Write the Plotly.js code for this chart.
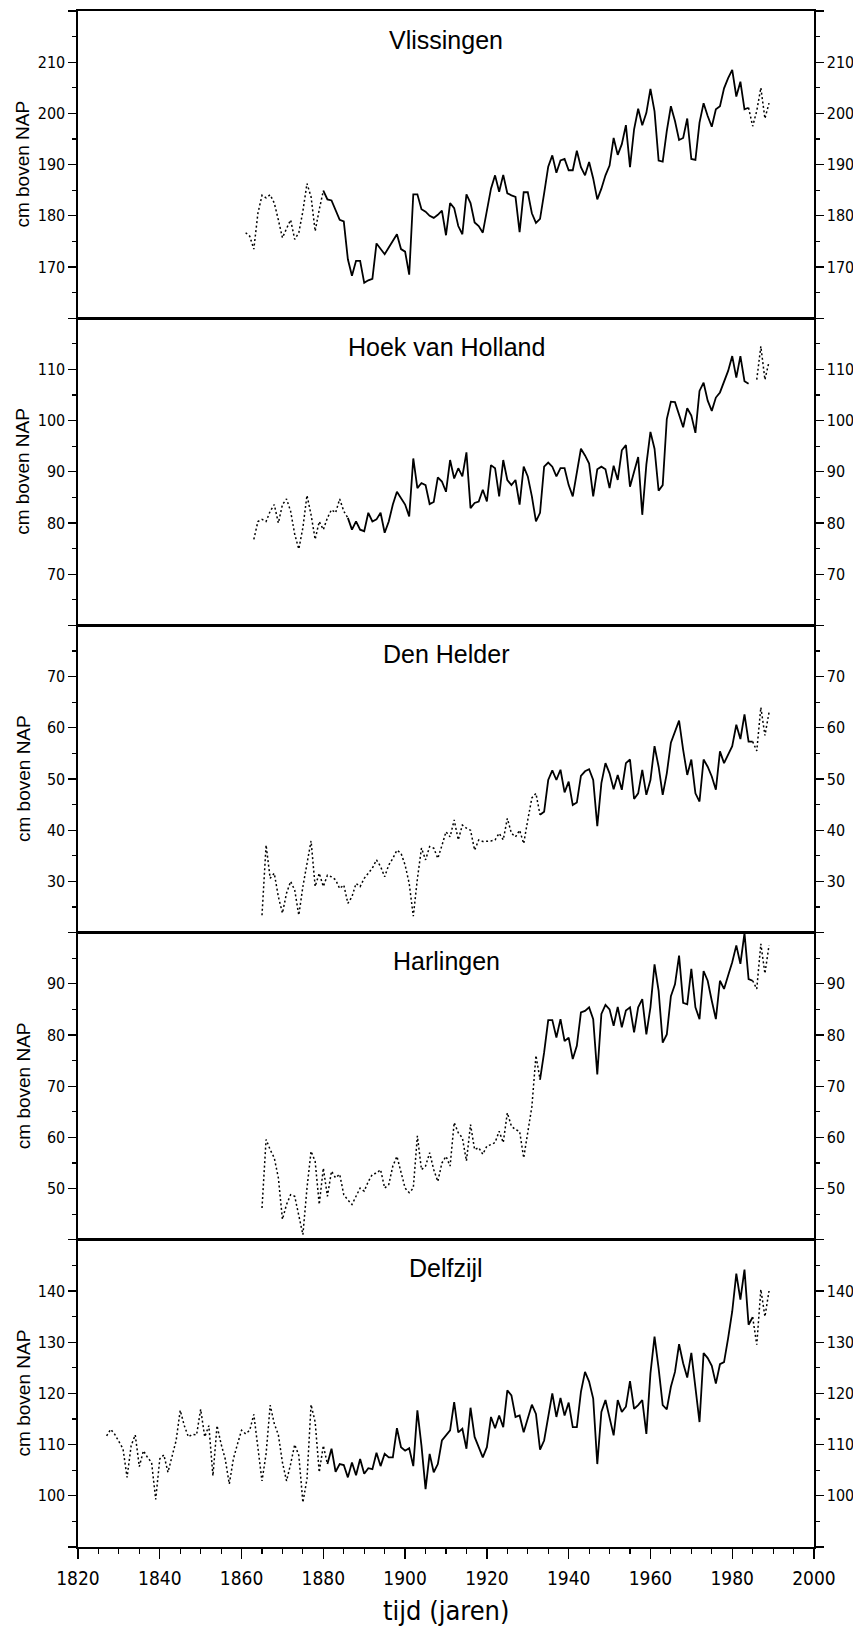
<!DOCTYPE html>
<html>
<head>
<meta charset="utf-8">
<script src="https://cdn.plot.ly/plotly-3.0.1.min.js"></script>
<style>
  html, body { margin: 0; padding: 0; background: #fff; }
  #chart { width: 853px; height: 1627px; }
</style>
</head>
<body>
<div id="chart"></div>
<script>
// ---------------- DATA (cm boven NAP, jaargemiddelden) ----------------
const stationNames = ['Vlissingen', 'Hoek van Holland', 'Den Helder', 'Harlingen', 'Delfzijl'];
const yRanges = [[160, 220], [60, 120], [20, 80], [40, 100], [90, 150]];
const xTickYears = [1820, 1840, 1860, 1880, 1900, 1920, 1940, 1960, 1980, 2000];

// Vlissingen
const vlisDotAStart = 1861;
const vlisDotA = [176.7, 176.0, 173.5, 180.5, 184.0, 183.5, 184.1, 182.5, 179.2, 175.7,
                  177.5, 179.2, 175.4, 176.7, 180.9, 186.3, 183.7, 177.0, 181.2, 184.9];
const vlisSolidStart = 1880;
const vlisSolid = [184.9, 183.2, 183.0, 181.2, 179.2, 178.9, 171.5, 168.3, 171.2, 171.2,
                   166.9, 167.4, 167.7, 174.6, 173.6, 172.5, 173.8, 175.2, 176.4, 173.5,
                   173.0, 168.5, 184.2, 184.2, 181.3, 180.8, 180.0, 179.6, 180.2, 181.0,
                   176.2, 182.5, 181.5, 178.0, 176.4, 184.2, 182.5, 178.7, 178.0, 176.7,
                   181.3, 185.3, 187.9, 184.7, 188.0, 184.4, 184.0, 183.7, 176.8, 184.6,
                   184.6, 180.5, 178.6, 179.4, 184.4, 189.6, 191.8, 188.4, 190.8, 191.1,
                   188.9, 188.9, 192.7, 189.5, 187.9, 190.5, 187.3, 183.2, 185.3, 187.9,
                   189.8, 195.2, 191.9, 194.0, 197.7, 189.5, 196.9, 200.9, 197.7, 200.1,
                   204.8, 200.4, 190.8, 190.6, 196.6, 201.4, 198.5, 194.8, 195.2, 199.0,
                   191.1, 190.9, 198.2, 202.0, 199.5, 197.4, 200.8, 201.4, 204.9, 206.9,
                   208.5, 203.3, 206.2, 200.8, 201.1];
const vlisDotBStart = 1984;
const vlisDotB = [201.1, 197.5, 200.5, 205.0, 199.0, 202.0];

// Hoek van Holland
const hoekDotAStart = 1863;
const hoekDotA = [76.8, 80.3, 80.7, 80.3, 82.3, 83.6, 80.0, 83.6, 84.7, 82.3,
                  77.8, 74.9, 79.1, 85.4, 81.6, 76.8, 80.3, 78.7, 81.0, 82.6,
                  82.0, 84.7, 82.3, 81.0];
const hoekSolidStart = 1886;
const hoekSolid = [81.0, 78.7, 80.3, 78.7,
                   78.4, 82.0, 80.3, 80.7, 82.0, 78.1, 80.3, 83.6, 86.1, 84.9,
                   83.6, 81.3, 92.6, 86.8, 87.8, 87.4, 83.7, 84.1, 88.9, 88.1,
                   86.1, 92.3, 88.7, 90.7, 89.1, 93.8, 82.9, 83.9, 84.2, 86.5,
                   84.2, 91.3, 90.7, 85.2, 92.3, 88.4, 87.4, 88.4, 83.6, 91.0,
                   89.1, 85.2, 80.3, 82.0, 91.0, 91.8, 91.0, 89.1, 90.7, 90.7,
                   87.4, 85.2, 90.0, 94.5, 93.2, 91.6, 85.2, 90.5, 91.0, 90.5,
                   86.8, 91.2, 88.4, 94.2, 95.2, 87.1, 90.0, 92.9, 81.6, 91.4,
                   97.8, 94.5, 86.3, 87.4, 100.3, 103.7, 103.6, 101.3, 98.7, 102.4,
                   101.0, 97.6, 105.8, 107.4, 103.9, 101.9, 104.5, 105.5, 107.7, 109.7,
                   112.6, 108.4, 112.6, 107.7, 107.2];
const hoekDotBStart = 1986;
const hoekDotB = [108.0, 114.5, 108.0, 111.5];

// Den Helder
const dhDotAStart = 1865;
const dhDotA = [23.4, 37.1, 30.6, 31.6, 27.0, 23.8, 27.7, 30.0, 28.3, 23.4,
                29.0, 33.5, 37.9, 29.0, 31.6, 29.0, 31.2, 30.9, 30.3, 28.6,
                29.3, 25.7, 27.0, 29.6, 29.0, 30.6, 31.5, 32.6, 34.2, 32.9,
                30.9, 33.2, 34.5, 36.1, 35.5, 33.2, 29.6, 23.2, 30.5, 36.5,
                34.2, 36.8, 36.5, 34.5, 37.0, 39.7, 38.7, 42.0, 38.1, 41.0,
                40.4, 40.0, 36.1, 38.1, 37.8, 37.8, 37.9, 38.1, 39.4, 38.1,
                42.3, 39.4, 38.7, 40.0, 37.4, 42.0, 46.3, 47.2, 43.0];
const dhSolidStart = 1933;
const dhSolid = [43.0, 43.6, 49.8, 51.7, 49.8, 51.8, 47.4,
                 49.5, 44.9, 45.4, 50.6, 51.5, 51.9, 49.8, 40.8, 49.2, 53.1,
                 51.1, 48.0, 50.8, 47.9, 53.1, 53.8, 46.1, 47.2, 51.8, 46.9,
                 49.8, 56.4, 52.4, 46.9, 51.1, 57.1, 59.3, 61.4, 55.7, 50.8,
                 53.8, 47.2, 45.6, 53.8, 52.4, 50.5, 47.9, 55.4, 53.1, 54.7,
                 56.4, 60.6, 57.8, 62.6, 57.3, 57.3];
const dhDotBStart = 1985;
const dhDotB = [57.3, 55.5, 64.0, 58.5, 63.0];

// Harlingen
const harDotAStart = 1865;
const harDotA = [46.2, 59.6, 57.6, 56.0, 52.1, 44.0, 46.9, 48.8, 48.5, 44.5,
                 41.0, 50.1, 57.3, 55.3, 46.9, 54.0, 48.5, 53.4, 52.1, 52.8,
                 48.8, 47.8, 46.9, 48.5, 50.1, 49.5, 51.4, 52.8, 53.0, 53.7,
                 50.1, 50.8, 54.4, 56.3, 53.4, 50.1, 49.2, 50.1, 60.3, 53.7,
                 54.4, 57.0, 53.7, 51.4, 55.0, 56.3, 54.4, 62.9, 60.9, 59.9,
                 55.4, 62.5, 57.6, 58.0, 56.7, 58.3, 58.6, 59.0, 61.2, 59.0,
                 64.8, 62.2, 61.5, 61.2, 56.0, 61.2, 66.0, 76.0, 71.3];
const harSolidStart = 1933;
const harSolid = [71.3, 76.6, 82.9, 82.9, 79.5, 83.1, 78.8,
                  79.5, 75.3, 77.9, 84.4, 84.7, 85.4, 83.1, 72.3, 84.1, 85.9,
                  85.0, 81.8, 85.5, 81.5, 84.8, 85.4, 80.5, 85.4, 87.0, 80.1,
                  85.4, 93.8, 88.6, 78.5, 80.1, 87.6, 89.9, 95.5, 86.3, 86.0,
                  92.9, 85.4, 83.1, 92.5, 90.6, 86.7, 83.1, 90.6, 89.0, 91.6,
                  94.2, 97.5, 93.9, 99.9, 90.9, 90.6];
const harDotBStart = 1985;
const harDotB = [90.6, 89.0, 97.8, 92.0, 97.5];

// Delfzijl
const delDotAStart = 1827;
const delDotA = [111.7, 113.0, 112.0, 110.5, 109.2, 103.6, 109.8, 111.9, 105.7, 108.8,
                 107.5, 106.5, 99.3, 107.2, 108.0, 104.6, 107.9, 110.8, 116.7, 113.7,
                 111.5, 112.0, 111.9, 116.9, 111.5, 113.7, 103.9, 113.7, 110.1, 107.2,
                 102.3, 107.2, 110.1, 112.8, 112.1, 112.8, 115.9, 109.2, 102.9, 108.2,
                 117.7, 114.1, 111.9, 106.5, 102.9, 106.2, 110.0, 107.9, 98.7, 103.3,
                 117.8, 114.4, 104.6, 109.8, 106.2];
const delSolidStart = 1881;
const delSolid = [106.2, 109.2, 104.7, 106.2, 106.0, 103.6, 106.5, 104.0, 107.2,
                  104.3, 105.4, 105.2, 108.4, 105.8, 108.2, 107.5, 107.5, 113.2, 109.5,
                  108.8, 109.3, 105.8, 116.7, 109.8, 101.3, 108.2, 104.6, 106.2, 110.8,
                  111.8, 112.8, 118.3, 112.4, 113.1, 109.2, 117.2, 111.5, 109.5, 107.5,
                  109.5, 115.4, 113.2, 115.7, 113.4, 120.6, 119.6, 115.4, 115.7, 112.4,
                  115.1, 117.8, 116.0, 109.0, 110.8, 115.7, 120.0, 115.4, 119.1, 115.7,
                  118.2, 113.4, 113.4, 120.3, 124.2, 122.3, 119.0, 106.2, 116.4, 118.7,
                  115.1, 111.8, 118.7, 116.4, 117.4, 122.4, 117.0, 117.7, 118.7, 112.1,
                  123.9, 131.1, 124.9, 117.7, 116.9, 121.3, 124.2, 129.6, 125.9, 123.1,
                  127.9, 120.6, 114.4, 127.9, 126.9, 125.4, 121.9, 125.7, 126.1, 130.8,
                  136.0, 143.4, 138.3, 144.2, 133.4, 134.9];
const delDotBStart = 1985;
const delDotB = [134.9, 129.5, 140.3, 135.0, 140.0];

// ---------------- CHART ----------------
const stations = [
  {dots: [[vlisDotAStart, vlisDotA], [vlisDotBStart, vlisDotB]], solid: [vlisSolidStart, vlisSolid]},
  {dots: [[hoekDotAStart, hoekDotA], [hoekDotBStart, hoekDotB]], solid: [hoekSolidStart, hoekSolid]},
  {dots: [[dhDotAStart, dhDotA], [dhDotBStart, dhDotB]], solid: [dhSolidStart, dhSolid]},
  {dots: [[harDotAStart, harDotA], [harDotBStart, harDotB]], solid: [harSolidStart, harSolid]},
  {dots: [[delDotAStart, delDotA], [delDotBStart, delDotB]], solid: [delSolidStart, delSolid]}
];

const FONT_NARROW = '"Liberation Sans Narrow", "DejaVu Sans Condensed", "Liberation Sans", sans-serif';
const FONT_TITLE = '"Liberation Sans", Arial, sans-serif';
const W = 853, H = 1627;
const M = {l: 78, r: 39, t: 11, b: 80};
const plotH = H - M.t - M.b;

function yearsFrom(start, arr) { return arr.map((_, i) => start + i); }

// panel index 0 = top (Vlissingen) ... 4 = bottom (Delfzijl)
// axis numbering: bottom panel uses x/y, others x2..x5 / y2..y5; right-side overlays y6..y10
function axNum(p) { return p === 4 ? 1 : p + 2; }
function axName(n) { return n === 1 ? '' : String(n); }

const traces = [];
const layout = {
  width: W, height: H,
  margin: M,
  paper_bgcolor: '#fff', plot_bgcolor: '#fff',
  showlegend: false,
  annotations: [],
  font: {family: FONT_NARROW, color: '#000'}
};

stations.forEach((st, p) => {
  const n = axNum(p);
  const xn = 'x' + axName(n);
  const yn = 'y' + axName(n);
  const yr = 'y' + (n + 5);
  const [s0, sv] = st.solid;
  traces.push({
    type: 'scatter', mode: 'lines', x: yearsFrom(s0, sv), y: sv,
    xaxis: xn, yaxis: yn, line: {color: '#000', width: 1.8}, hoverinfo: 'skip'
  });
  st.dots.forEach(([d0, dv]) => {
    traces.push({
      type: 'scatter', mode: 'lines', x: yearsFrom(d0, dv), y: dv,
      xaxis: xn, yaxis: yr, line: {color: '#000', width: 1.5, dash: '2px,2.5px'}, hoverinfo: 'skip'
    });
  });

  const top = 1 - p / 5, bot = 1 - (p + 1) / 5;
  const [r0, r1] = yRanges[p];
  const majors = [], labels = [], minors = [];
  for (let v = r0; v <= r1; v += 10) { majors.push(v); labels.push(v === r0 || v === r1 ? '' : String(v)); }
  for (let v = r0 + 5; v < r1; v += 10) minors.push(v);

  const yCommon = {
    range: [r0, r1], tickmode: 'array', tickvals: majors, ticktext: labels,
    ticks: 'outside', ticklen: 8, tickwidth: 1.3, tickcolor: '#000',
    showline: true, linewidth: 1.6, linecolor: '#000',
    showgrid: false, zeroline: false, fixedrange: true,
    tickfont: {family: FONT_NARROW, size: 16, color: '#000'},
    minor: {tickmode: 'array', tickvals: minors, ticks: 'outside', ticklen: 4, tickwidth: 1.2, tickcolor: '#000', showgrid: false}
  };
  layout['yaxis' + axName(n)] = Object.assign({}, yCommon, {domain: [bot, top], anchor: xn, side: 'left'});
  layout['yaxis' + (n + 5)] = Object.assign({}, yCommon, {overlaying: yn, anchor: xn, side: 'right'});

  const xCommon = {
    range: [1820, 2000], showline: true, mirror: true, linewidth: 1.6, linecolor: '#000',
    showgrid: false, zeroline: false, fixedrange: true, domain: [0, 1], anchor: yn
  };
  if (n === 1) {
    layout.xaxis = Object.assign({}, xCommon, {
      tickmode: 'array', tickvals: xTickYears, ticktext: xTickYears.map(String),
      ticks: 'outside', ticklen: 10, tickwidth: 1.4, tickcolor: '#000',
      ticklabelstandoff: 4,
      tickfont: {family: FONT_NARROW, size: 19, color: '#000'},
      minor: {dtick: 5, tick0: 1820, ticks: 'outside', ticklen: 5, tickwidth: 1.2, tickcolor: '#000', showgrid: false}
    });
  } else {
    layout['xaxis' + n] = Object.assign({}, xCommon, {matches: 'x', showticklabels: false, ticks: ''});
  }

  // station title
  layout.annotations.push({
    text: stationNames[p], xref: 'paper', yref: 'paper', x: 0.5, y: top - 28.5 / plotH,
    xanchor: 'center', yanchor: 'middle', showarrow: false,
    font: {family: FONT_TITLE, size: 25, color: '#000'}
  });
  // y axis title
  layout.annotations.push({
    text: 'cm boven NAP', xref: 'paper', yref: 'paper',
    x: (23 - M.l) / (W - M.l - M.r), y: (top + bot) / 2,
    xanchor: 'center', yanchor: 'middle', textangle: -90, showarrow: false,
    font: {family: FONT_TITLE, size: 19, color: '#000'}
  });
});

// x axis title
layout.annotations.push({
  text: 'tijd (jaren)', xref: 'paper', yref: 'paper', x: 0.5, y: (M.b - 1610 + (H - M.b)) / plotH * 0 - (1610 - (H - M.b)) / plotH,
  xanchor: 'center', yanchor: 'middle', showarrow: false,
  font: {family: FONT_NARROW, size: 27, color: '#000'}
});

Plotly.newPlot('chart', traces, layout, {staticPlot: true, displayModeBar: false});
</script>
</body>
</html>
